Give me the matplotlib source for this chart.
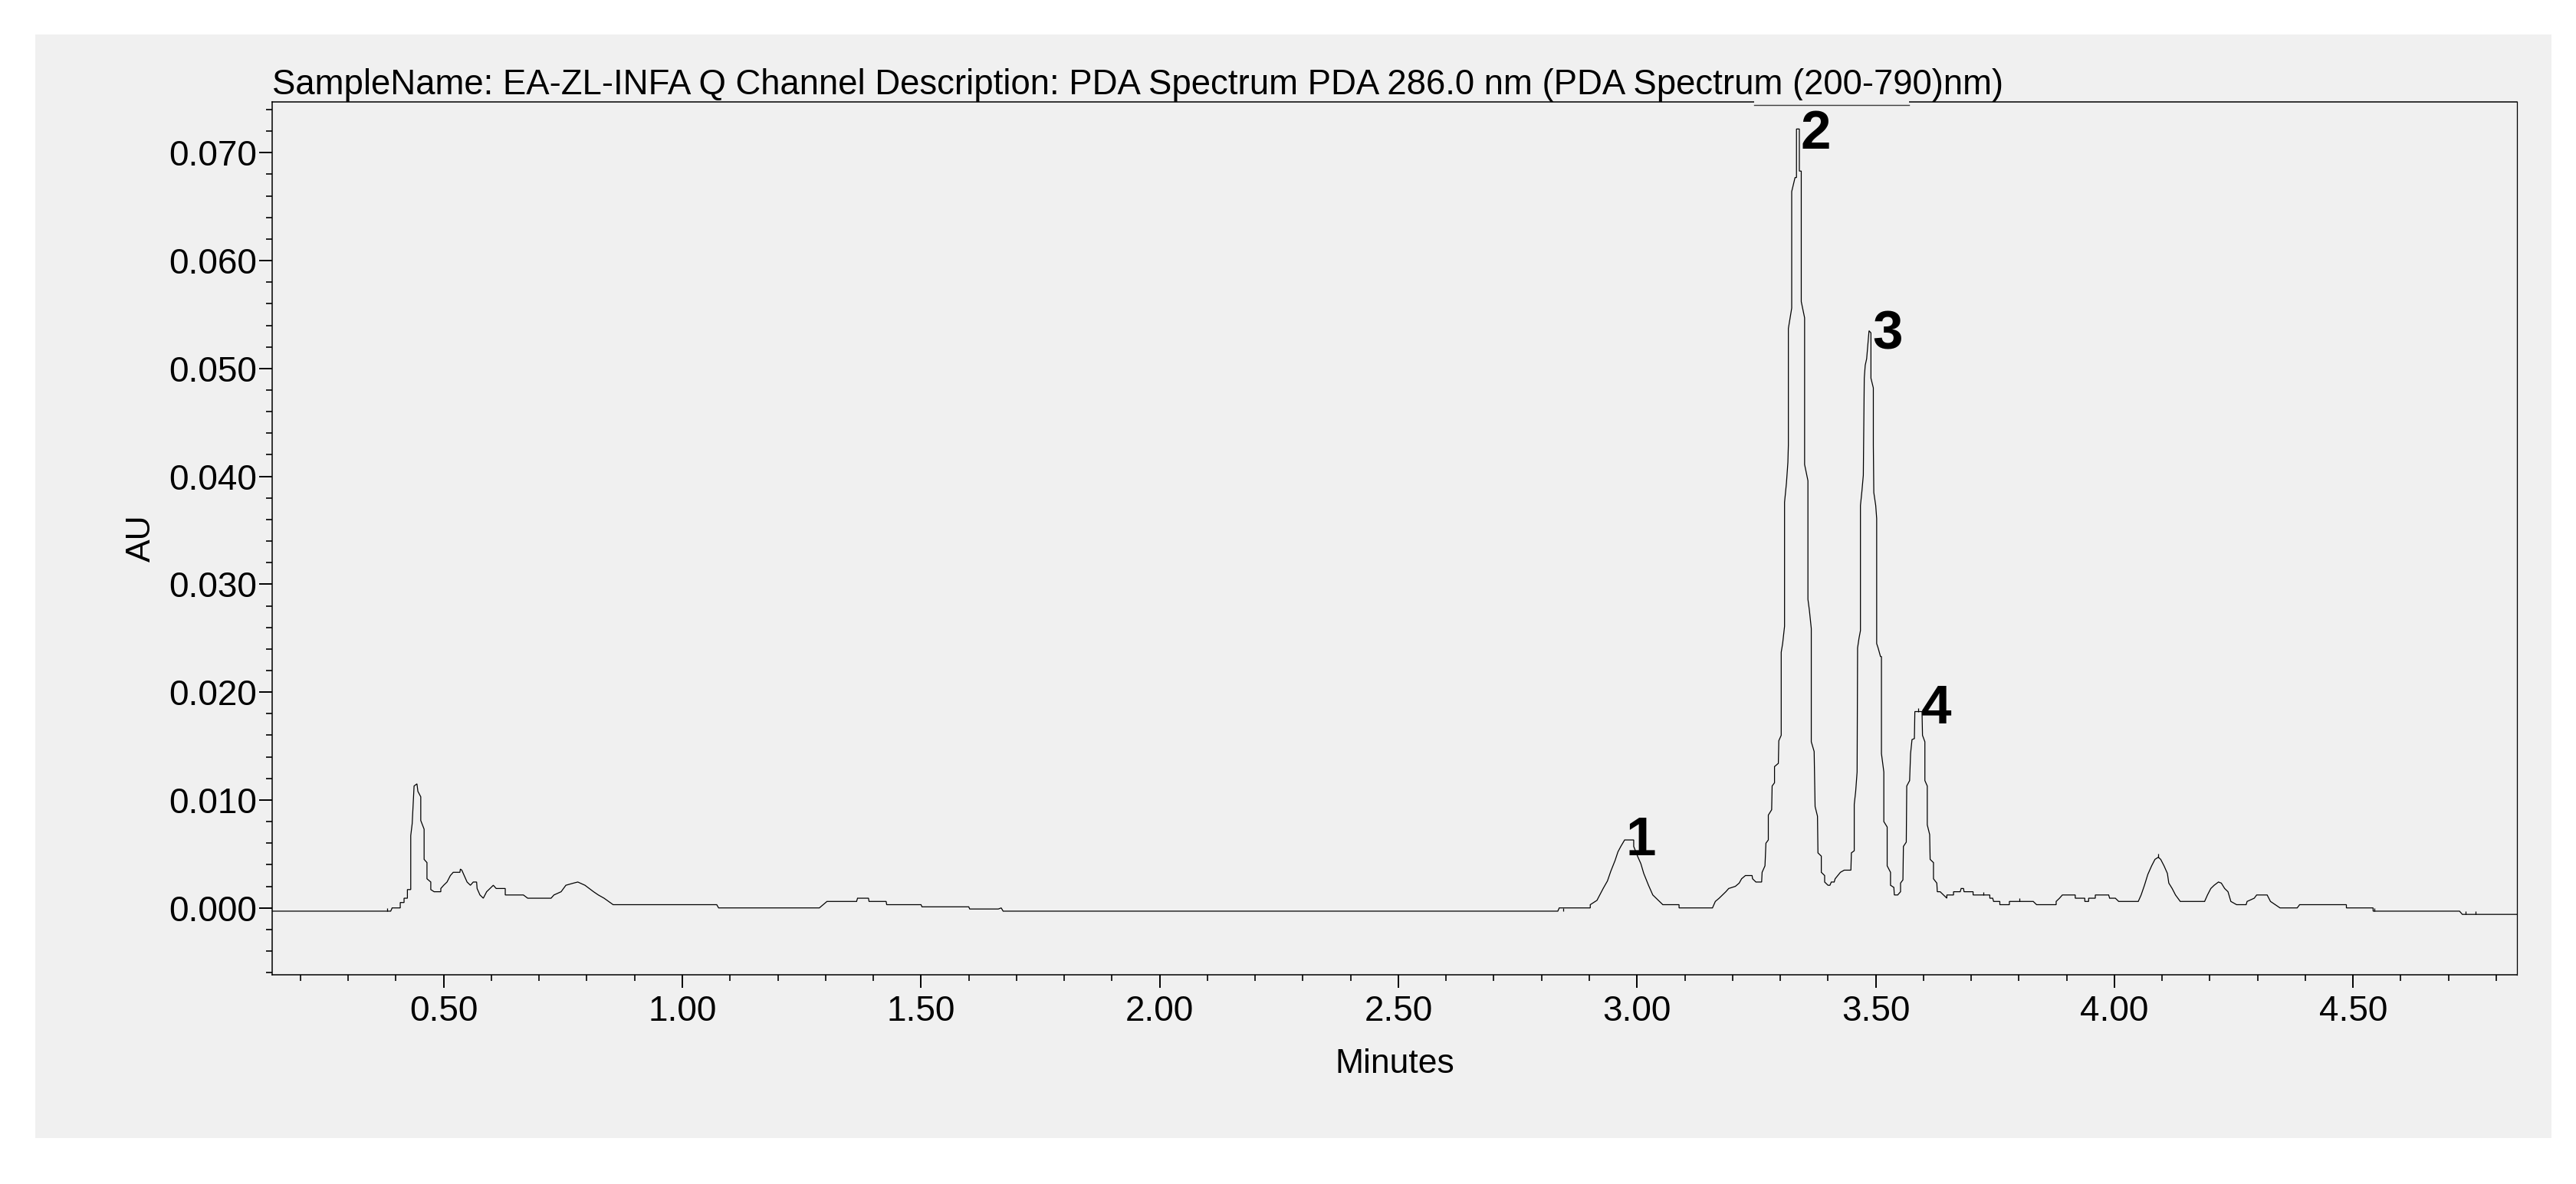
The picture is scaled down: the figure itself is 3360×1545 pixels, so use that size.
import matplotlib
matplotlib.use("Agg")
import matplotlib.pyplot as plt
from matplotlib.lines import Line2D
from matplotlib.patches import Rectangle
from matplotlib.ticker import MultipleLocator, FormatStrFormatter

plt.rcParams['font.family'] = ['Liberation Sans', 'DejaVu Sans']

title_text = ('SampleName: EA-ZL-INFA Q Channel Description: PDA Spectrum PDA 286.0 nm '
              '(PDA Spectrum (200-790)nm)')

# retention time (min) and absorbance (AU)
rt = [0.141, 0.382, 0.389, 0.392, 0.409, 0.409, 0.417, 0.417, 0.424, 0.424, 0.431, 0.431,
      0.434, 0.438, 0.444, 0.446, 0.452, 0.452, 0.459, 0.459, 0.465, 0.465, 0.473, 0.473,
      0.480, 0.494, 0.494, 0.500, 0.507, 0.514, 0.520, 0.534, 0.535, 0.538, 0.542, 0.549,
      0.556, 0.562, 0.569, 0.570, 0.576, 0.583, 0.590, 0.597, 0.604,
      0.610, 0.629, 0.629, 0.667, 0.676, 0.725, 0.731, 0.746, 0.756, 0.772, 0.781, 0.796,
      0.805, 0.814, 0.824, 0.836, 0.855, 1.072, 1.076, 1.287, 1.303, 1.365, 1.367, 1.390,
      1.391, 1.427, 1.428, 1.500, 1.502, 1.600, 1.602, 1.662, 1.668, 1.672, 2.834, 2.837,
      2.902,
      2.902, 2.916, 2.922, 2.929, 2.938, 2.945, 2.954, 2.960, 2.966, 2.974, 2.993, 2.993,
      3.001, 3.008, 3.014, 3.024, 3.027, 3.033, 3.040, 3.047, 3.054, 3.088, 3.088, 3.158,
      3.164, 3.172, 3.179, 3.186, 3.192, 3.206, 3.214, 3.219, 3.227, 3.241, 3.242, 3.249,
      3.261, 3.262, 3.268, 3.270, 3.275, 3.275, 3.282, 3.283, 3.288, 3.288, 3.296, 3.297,
      3.302, 3.302, 3.305, 3.309, 3.309, 3.313, 3.316, 3.317, 3.317, 3.324, 3.324, 3.331,
      3.334, 3.334, 3.340, 3.340, 3.344, 3.344, 3.351, 3.351, 3.358, 3.358, 3.361, 3.365,
      3.365, 3.371, 3.373, 3.378, 3.379, 3.386, 3.386, 3.393, 3.393, 3.400, 3.404, 3.407,
      3.413, 3.415, 3.426, 3.434, 3.448, 3.449, 3.455, 3.455, 3.458, 3.461, 3.462, 3.465,
      3.468, 3.468, 3.471, 3.474, 3.476, 3.478, 3.481, 3.486, 3.490, 3.490, 3.495, 3.495,
      3.496, 3.500, 3.502, 3.502, 3.505, 3.510, 3.512, 3.512, 3.517, 3.517, 3.524, 3.524,
      3.531, 3.531, 3.538, 3.539, 3.546, 3.552, 3.552, 3.557, 3.558, 3.564, 3.565, 3.571,
      3.573, 3.576, 3.581, 3.582, 3.597, 3.598, 3.603, 3.603, 3.608, 3.608, 3.613, 3.614,
      3.621, 3.621, 3.628, 3.629, 3.635, 3.642, 3.649, 3.649, 3.663, 3.663, 3.677, 3.679,
      3.684, 3.685, 3.704, 3.704, 3.739, 3.739, 3.745, 3.747, 3.760, 3.760, 3.780, 3.780,
      3.830, 3.837, 3.878, 3.878, 3.885, 3.891, 3.918, 3.918, 3.938, 3.938, 3.946, 3.946,
      3.960, 3.960, 3.988, 3.990, 4.002, 4.009, 4.050, 4.056, 4.063, 4.070, 4.078, 4.085,
      4.092, 4.097, 4.104, 4.111, 4.114, 4.121, 4.128, 4.138, 4.189, 4.195, 4.202, 4.209,
      4.218, 4.224, 4.231, 4.238, 4.244, 4.256, 4.276, 4.278, 4.293, 4.298, 4.320, 4.327,
      4.347, 4.383, 4.388, 4.486, 4.486, 4.542, 4.542, 4.723, 4.729, 4.844]
au = [-0.0003, -0.0003, -0.0003, 0.0000, 0.0000, 0.0005, 0.0005, 0.0009, 0.0009, 0.0017,
      0.0017, 0.0067, 0.0078, 0.0113, 0.0115, 0.0108, 0.0103, 0.0081, 0.0073, 0.0045,
      0.0042, 0.0027, 0.0024, 0.0017, 0.0015, 0.0015, 0.0018, 0.0021, 0.0024, 0.0030,
      0.0033, 0.0033, 0.0036, 0.0035, 0.0031, 0.0024, 0.0021, 0.0024, 0.0024, 0.0018,
      0.0012, 0.0009, 0.0015, 0.0018, 0.0021,
      0.0018, 0.0018, 0.0012, 0.0012, 0.0009, 0.0009, 0.0012, 0.0015, 0.0021, 0.0023,
      0.0024, 0.0021, 0.0018, 0.0015, 0.0012, 0.0009, 0.0003, 0.0003, 0.0000, 0.0000,
      0.0006, 0.0006, 0.0009, 0.0009, 0.0006, 0.0006, 0.0003, 0.0003, 0.0001, 0.0001,
      -0.0001, -0.0001, 0.0000, -0.0003, -0.0003, 0.0000, 0.0000,
      0.0003, 0.0007, 0.0012, 0.0018, 0.0025, 0.0034, 0.0044, 0.0052, 0.0057, 0.0063,
      0.0063, 0.0057, 0.0048, 0.0041, 0.0032, 0.0021, 0.0018, 0.0012, 0.0009, 0.0006,
      0.0003, 0.0003, 0.0000, 0.0000, 0.0006, 0.0009, 0.0012, 0.0015, 0.0018, 0.0020,
      0.0023, 0.0027, 0.0030, 0.0030, 0.0027, 0.0024, 0.0024, 0.0033, 0.0039, 0.0060,
      0.0063, 0.0086, 0.0091, 0.0113, 0.0116, 0.0131, 0.0134, 0.0155, 0.0160, 0.0237,
      0.0245, 0.0261, 0.0376, 0.0394, 0.0413, 0.0429, 0.0537, 0.0556, 0.0664, 0.0677,
      0.0677, 0.0722, 0.0722, 0.0683, 0.0683, 0.0562, 0.0547, 0.0411, 0.0396, 0.0286,
      0.0276, 0.0259, 0.0154, 0.0145, 0.0094, 0.0085, 0.0051, 0.0048, 0.0033, 0.0030,
      0.0024, 0.0021, 0.0021, 0.0024, 0.0024, 0.0027, 0.0033, 0.0035, 0.0035, 0.0051,
      0.0053, 0.0096, 0.0108, 0.0126, 0.0241, 0.0250, 0.0257, 0.0373, 0.0386, 0.0401,
      0.0491, 0.0503, 0.0509, 0.0535, 0.0533, 0.0491, 0.0482, 0.0429, 0.0385, 0.0373,
      0.0361, 0.0245, 0.0241, 0.0233, 0.0233, 0.0143, 0.0126, 0.0080, 0.0075, 0.0039,
      0.0033, 0.0021, 0.0019, 0.0012, 0.0012, 0.0015, 0.0023, 0.0026, 0.0057, 0.0061,
      0.0113, 0.0118, 0.0143, 0.0156, 0.0157, 0.0182, 0.0182, 0.0160, 0.0154, 0.0118,
      0.0113, 0.0077, 0.0068, 0.0045, 0.0042, 0.0027, 0.0023, 0.0015, 0.0015, 0.0012,
      0.0009, 0.0012, 0.0012, 0.0015, 0.0015, 0.0018, 0.0018, 0.0015, 0.0015, 0.0012,
      0.0012, 0.0009, 0.0009, 0.0006, 0.0006, 0.0003, 0.0003, 0.0006, 0.0006, 0.0003,
      0.0003, 0.0006, 0.0009, 0.0012, 0.0012, 0.0009, 0.0009, 0.0006, 0.0006, 0.0009,
      0.0009, 0.0012, 0.0012, 0.0009, 0.0009, 0.0006, 0.0006, 0.0012, 0.0021, 0.0031,
      0.0039, 0.0045, 0.0047, 0.0045, 0.0039, 0.0032, 0.0023, 0.0018, 0.0012, 0.0006,
      0.0006, 0.0012, 0.0018, 0.0021, 0.0024, 0.0023, 0.0018, 0.0015, 0.0006, 0.0003,
      0.0003, 0.0006, 0.0009, 0.0012, 0.0012, 0.0006, 0.0000, 0.0000, 0.0003, 0.0003,
      0.0000, 0.0000, -0.0003, -0.0003, -0.0006, -0.0006]

# integration event marks (small vertical ticks on the trace)
event_rt = [0.382, 2.846, 3.589, 3.725, 3.801, 4.092, 4.545, 4.736, 4.756]
event_lo = [-0.0003, -0.0003, 0.0182, 0.0012, 0.0006, 0.0047, -0.0003, -0.0006, -0.0006]
event_hi = [0.0000, 0.0000, 0.0185, 0.0015, 0.0009, 0.0050, 0.0000, -0.0003, -0.0003]

# peak numbers
peak_names = ['1', '2', '3', '4']
peak_x = [2.976, 3.342, 3.493, 3.595]
peak_y = [0.0049, 0.0704, 0.0518, 0.0171]

bg = '#f0f0f0'
W, H = 3360, 1545

fig = plt.figure(figsize=(W / 100, H / 100), dpi=100, facecolor='white')
fig.patches.append(Rectangle((46 / W, 1 - 1485 / H), (3328 - 46) / W, (1485 - 45) / H,
                             transform=fig.transFigure, facecolor=bg,
                             edgecolor='none', zorder=-10))

ax = fig.add_axes([355 / W, 1 - 1272.3 / H, (3283.4 - 355) / W, (1272.3 - 132.7) / H])
ax.set_facecolor(bg)

ax.plot(rt, au, color='black', linewidth=0.9, solid_joinstyle='miter')
ax.vlines(event_rt, event_lo, event_hi, color='black', linewidth=0.9)

for name, x, y in zip(peak_names, peak_x, peak_y):
    ax.text(x, y, name, fontsize=51, fontweight='bold', ha='left', va='baseline')

ax.set_xlim(0.1407, 4.844)
ax.set_ylim(-0.00622, 0.07473)

ax.xaxis.set_major_locator(MultipleLocator(0.5))
ax.xaxis.set_minor_locator(MultipleLocator(0.1))
ax.yaxis.set_major_locator(MultipleLocator(0.01))
ax.yaxis.set_minor_locator(MultipleLocator(0.002))
ax.xaxis.set_major_formatter(FormatStrFormatter('%.2f'))
ax.yaxis.set_major_formatter(FormatStrFormatter('%.3f'))

ax.tick_params(which='major', direction='out', length=12, width=1.4, labelsize=33)
ax.tick_params(which='minor', direction='out', length=6, width=1.2)
ax.tick_params(axis='x', which='major', pad=6.5)
ax.tick_params(axis='y', which='major', pad=2.2)

for side in ['left', 'bottom', 'top', 'right']:
    ax.spines[side].set_linewidth(1.1)
ax.spines['right'].set_linewidth(0.9)

ax.set_xlabel('Minutes', fontsize=32)
ax.xaxis.set_label_coords(0.5, -0.0842)
ax.set_ylabel('AU', fontsize=32)
ax.yaxis.set_label_coords(-0.0511, 0.5)

# title sits right on the top border, a little wider-set than the axis text
fig.text(355 / W, 1 - 123.3 / H, title_text, fontsize=32.8, ha='left', va='baseline')

# the little offset piece of the top border under the title
fig.add_artist(Rectangle((2288 / W, 1 - 135.5 / H), (2490 - 2288) / W, 5 / H,
                         transform=fig.transFigure, facecolor=bg, edgecolor='none',
                         zorder=5))
fig.add_artist(Line2D([2288 / W, 2490 / W], [1 - 136.7 / H] * 2, color='#3c3c3c',
                      linewidth=1.0, transform=fig.transFigure, zorder=6))

fig.savefig('out.png', dpi=100, facecolor='white')
